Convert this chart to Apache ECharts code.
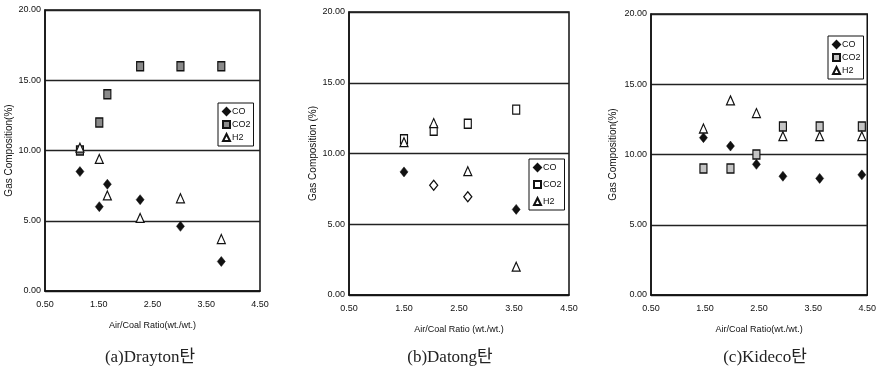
<!DOCTYPE html>
<html>
<head>
<meta charset="utf-8">
<script src="https://cdn.jsdelivr.net/npm/echarts@6/dist/echarts.min.js"></script>
<style>
html,body{margin:0;padding:0;background:#fff;}
#chart{width:879px;height:384px;}
</style>
</head>
<body>
<div id="chart"></div>
<script>
// ---- data ----
const xTicks = [0.5, 1.5, 2.5, 3.5, 4.5];
const yTicks = [0, 5, 10, 15, 20];

const draytonX   = [1.15, 1.51, 1.66, 2.27, 3.02, 3.78];
const draytonCO  = [8.5, 6.0, 7.6, 6.5, 4.6, 2.1];
const draytonCO2 = [10.0, 12.0, 14.0, 16.0, 16.0, 16.0];
const draytonH2  = [10.2, 9.4, 6.8, 5.2, 6.6, 3.7];

const datongX   = [1.50, 2.04, 2.66, 3.54];
const datongCO  = [8.7, 7.75, 6.95, 6.05];
const datongCO2 = [11.0, 11.6, 12.1, 13.1];
const datongH2  = [10.8, 12.15, 8.75, 2.0];

const kidecoX   = [1.47, 1.97, 2.45, 2.94, 3.62, 4.40];
const kidecoCO  = [11.2, 10.6, 9.3, 8.45, 8.3, 8.55];
const kidecoCO2 = [9.0, 9.0, 10.0, 12.0, 12.0, 12.0];
const kidecoH2  = [11.85, 13.85, 12.95, 11.3, 11.3, 11.3];

const captions = ['(a)Drayton탄', '(b)Datong탄', '(c)Kideco탄'];
const yNames = ['Gas Composition(%)', 'Gas Composition (%)', 'Gas Composition(%)'];
const xNames = ['Air/Coal Ratio(wt./wt.)', 'Air/Coal Ratio (wt./wt.)', 'Air/Coal Ratio(wt./wt.)'];
const seriesNames = ['CO', 'CO2', 'H2'];

// ---- layout ----
const grids = [
  {left: 45, top: 10, width: 215, height: 281},
  {left: 349, top: 12, width: 220, height: 283},
  {left: 651, top: 14, width: 218, height: 281}
];
const yNameGaps = [31, 29, 33];
const legendPos = [
  {left: 218, top: 103},
  {left: 529, top: 159},
  {left: 828, top: 36}
];
const captionX = [145, 445, 760];

const tickFont = "'Liberation Sans Narrow','Arial Narrow','Liberation Sans',sans-serif";
const panels = [
  {x: draytonX, co: draytonCO, co2: draytonCO2, h2: draytonH2, co2Fill: '#8a8a8a'},
  {x: datongX, co: datongCO, co2: datongCO2, h2: datongH2, co2Fill: '#ffffff'},
  {x: kidecoX, co: kidecoCO, co2: kidecoCO2, h2: kidecoH2, co2Fill: '#c4c4c4'}
];
// open diamonds in panel (b) for points 2 and 3
const openCO = {1: [1, 2]};

const pair = (xs, ys) => xs.map((x, i) => [x, ys[i]]);
const suffix = i => ' '.repeat(i);

const option = {
  animation: false,
  backgroundColor: '#fff',
  grid: grids.map(g => Object.assign({show: true, borderColor: '#111', borderWidth: 1.5, backgroundColor: 'transparent'}, g)),
  xAxis: grids.map((g, i) => ({
    gridIndex: i, type: 'value', min: 0.5, max: 4.5, interval: 1,
    name: xNames[i], nameLocation: 'middle', nameGap: 30,
    nameTextStyle: {fontSize: 9, color: '#111', fontFamily: tickFont},
    axisLine: {show: true, lineStyle: {color: '#111', width: 1.5}},
    axisTick: {show: false},
    splitLine: {show: false},
    axisLabel: {fontSize: 9, color: '#111', fontFamily: tickFont, margin: 9,
      formatter: v => v.toFixed(2)}
  })),
  yAxis: grids.map((g, i) => ({
    gridIndex: i, type: 'value', min: 0, max: 20, interval: 5,
    name: yNames[i], nameLocation: 'middle', nameGap: yNameGaps[i], nameRotate: 90,
    nameTextStyle: {fontSize: 10, color: '#111', fontFamily: "'Liberation Sans',sans-serif"},
    axisLine: {show: true, lineStyle: {color: '#111', width: 1.5}},
    axisTick: {show: false},
    splitLine: {show: true, lineStyle: {color: '#222', width: 1.3}},
    axisLabel: {fontSize: 9, color: '#111', fontFamily: tickFont, margin: 4,
      formatter: v => v.toFixed(2)}
  })),
  legend: legendPos.map((p, i) => ({
    data: seriesNames.map(n => n + suffix(i)),
    orient: 'vertical', left: p.left, top: p.top,
    padding: [4, 3, 4, 4], itemGap: i === 1 ? 8 : 4,
    itemWidth: 7, itemHeight: 7,
    borderColor: '#111', borderWidth: 1,
    selectedMode: false,
    textStyle: {fontSize: 9, color: '#111', fontFamily: tickFont, padding: [0, 0, 0, -3]},
    formatter: n => n.trim()
  })),
  title: captions.map((c, i) => ({
    text: c, left: captionX[i], top: 344, textAlign: 'center',
    textStyle: {fontSize: 17, fontWeight: 'normal', color: '#222',
      fontFamily: "'Liberation Serif','DejaVu Serif','Noto Sans CJK KR',serif"}
  })),
  series: []
};

panels.forEach((p, i) => {
  const coData = pair(p.x, p.co).map((d, j) => {
    if (openCO[i] && openCO[i].includes(j)) {
      return {value: d, itemStyle: {color: '#fff', borderColor: '#111', borderWidth: 1.3, opacity: 1}};
    }
    return d;
  });
  option.series.push({
    type: 'scatter', name: 'CO' + suffix(i), xAxisIndex: i, yAxisIndex: i,
    symbol: 'diamond', symbolSize: [8, 10],
    itemStyle: {color: '#111', borderColor: '#111', borderWidth: 0.5, opacity: 1},
    data: coData
  });
  option.series.push({
    type: 'scatter', name: 'CO2' + suffix(i), xAxisIndex: i, yAxisIndex: i,
    symbol: 'rect', symbolSize: [7, 9],
    itemStyle: {color: p.co2Fill, borderColor: '#111', borderWidth: 1.3, opacity: 1},
    data: pair(p.x, p.co2)
  });
  option.series.push({
    type: 'scatter', name: 'H2' + suffix(i), xAxisIndex: i, yAxisIndex: i,
    symbol: 'triangle', symbolSize: [8, 9],
    itemStyle: {color: '#fff', borderColor: '#111', borderWidth: 1.2, opacity: 1},
    data: pair(p.x, p.h2)
  });
});

const chart = echarts.init(document.getElementById('chart'), null, {renderer: 'canvas'});
chart.setOption(option);
</script>
</body>
</html>
